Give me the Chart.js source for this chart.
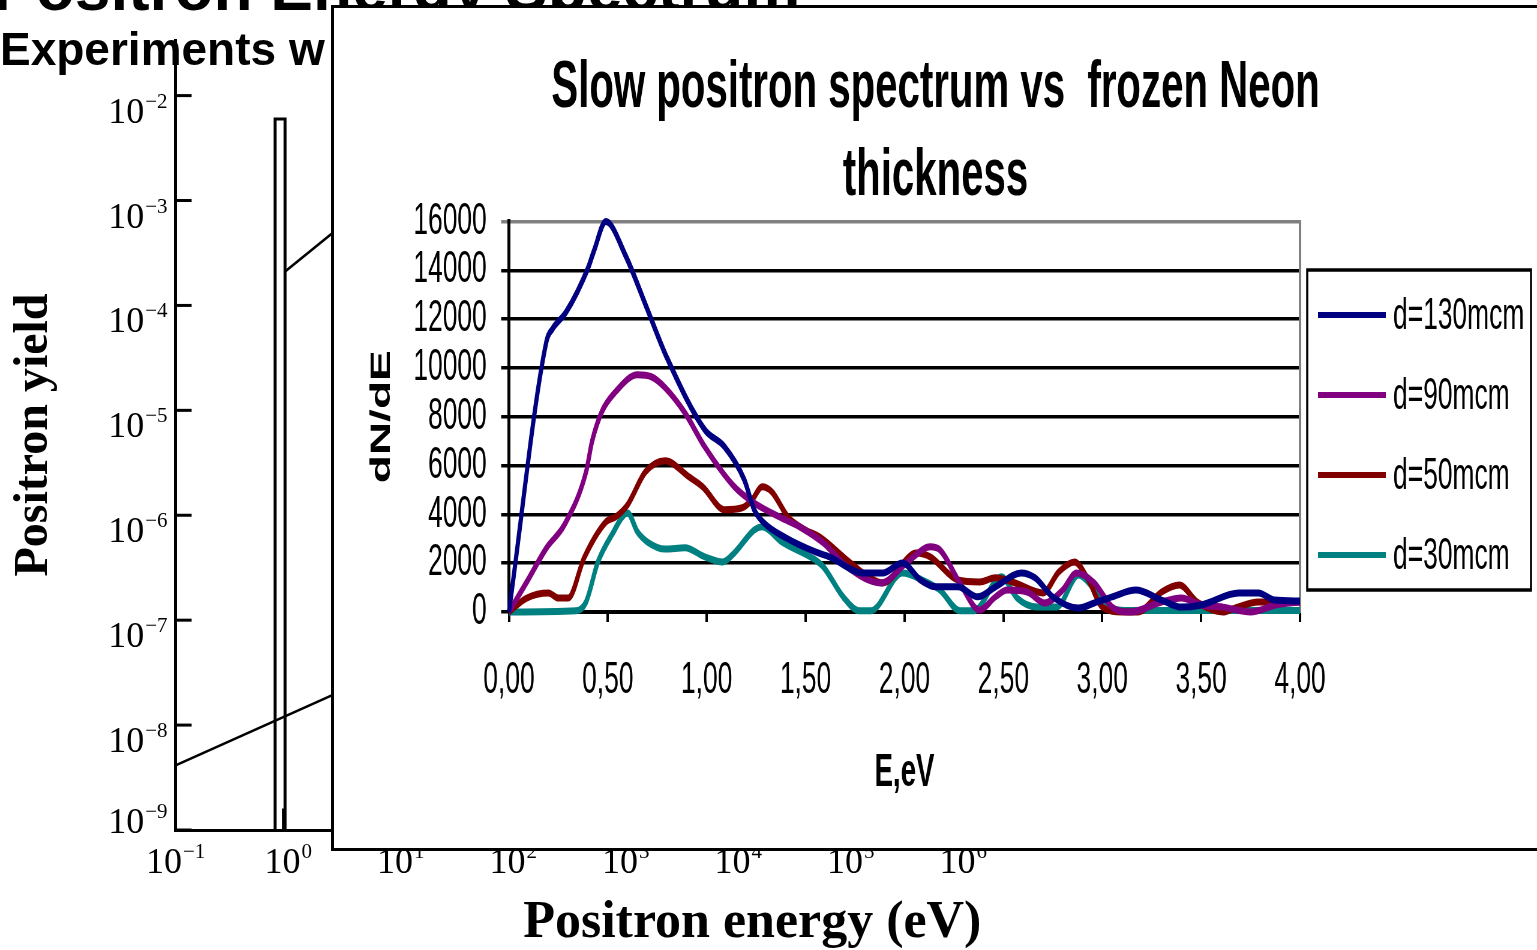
<!DOCTYPE html>
<html>
<head>
<meta charset="utf-8">
<script src="https://cdn.jsdelivr.net/npm/chart.js@4.4.1/dist/chart.umd.min.js"></script>
<style>
  html, body { margin: 0; padding: 0; background: #fff; overflow: hidden; }
  #page { position: relative; width: 1537px; height: 950px; overflow: hidden; }
  #bg { position: absolute; left: 0; top: 0; }
  .txt { position: absolute; white-space: nowrap; font-family: 'Liberation Sans', Arial, sans-serif;
         font-weight: bold; line-height: 1; color: #000; }
  #mainTitle { left: -7px; top: -44px; font-size: 64px; }
  #subTitle { left: 0; top: 26px; font-size: 46px; }
  #box { position: absolute; left: 331px; top: 5px; width: 1220px; height: 846px;
         border: 3px solid #000; box-sizing: border-box; background: #fff; }
  #inset { position: absolute; left: 0; top: 0; transform: scaleX(0.6); transform-origin: 0 0; }
</style>
</head>
<body>
<div id="page">
  <canvas id="bg" width="1537" height="950"></canvas>
  <div class="txt" id="mainTitle">Positron Energy Spectrum</div>
  <div class="txt" id="subTitle">Experiments w</div>
  <div id="box"><canvas id="inset" width="2005" height="840"></canvas></div>
</div>
<script>
// background log-log plot (mostly hidden behind the inset)
const bgXExps = [-1, 0, 1, 2, 3, 4, 5, 6];
const bgYExps = [-2, -3, -4, -5, -6, -7, -8, -9];
const peakOutline = [[0.766, 1e-9], [0.766, 6e-3], [0.94, 6e-3], [0.94, 1e-9]];
const upperLine = [[0.94, 2.11e-4], [3, 5.78e-4]];
const lowerLine = [[0.1, 4.14e-9], [3, 2.12e-8]];
const baseMark = [[0.92, 1e-9], [0.92, 1.6e-9]];

// inset: slow positron spectrum
const energyTicks = [0, 0.5, 1, 1.5, 2, 2.5, 3, 3.5, 4];
const energyLabels = ['0,00', '0,50', '1,00', '1,50', '2,00', '2,50', '3,00', '3,50', '4,00'];
const countTicks = [0, 2000, 4000, 6000, 8000, 10000, 12000, 14000, 16000];
const seriesNames = ['d=130mcm', 'd=90mcm', 'd=50mcm', 'd=30mcm'];

const d130 = [[0,0],[0.19,11100],[0.22,11600],[0.29,12300],[0.40,14100],[0.43,14800],[0.49,16000],
  [0.59,14600],[0.70,12400],[0.80,10400],[0.99,7470],[1.09,6770],[1.19,5420],[1.24,4190],[1.29,3650],
  [1.40,3040],[1.55,2460],[1.62,2260],[1.79,1600],[1.89,1600],[1.99,2010],[2.08,1310],[2.16,1030],
  [2.27,1030],[2.37,620],[2.46,1030],[2.59,1600],[2.66,1400],[2.75,620],[2.88,160],[2.96,370],
  [3.05,620],[3.17,900],[3.30,490],[3.40,200],[3.50,290],[3.69,780],[3.79,780],[3.87,490],[4.00,450]];
const d90 = [[0,0],[0.09,1230],[0.19,2630],[0.28,3570],[0.39,5740],[0.42,6980],[0.47,8210],[0.54,9030],
  [0.65,9720],[0.72,9640],[0.79,9190],[0.89,8160],[0.99,6770],[1.14,5130],[1.24,4470],[1.40,3770],
  [1.47,3490],[1.59,2830],[1.71,1850],[1.88,1190],[2.01,2010],[2.13,2670],[2.18,2540],[2.28,1190],
  [2.38,80],[2.46,620],[2.52,900],[2.62,820],[2.71,370],[2.80,900],[2.87,1600],[2.96,1190],[3.05,200],
  [3.14,0],[3.30,410],[3.40,570],[3.50,290],[3.61,200],[3.75,0],[3.88,300],[4.00,410]];
const d50 = [[0,0],[0.09,570],[0.20,780],[0.25,570],[0.30,570],[0.38,2220],[0.49,3690],[0.54,3900],
  [0.60,4390],[0.69,5740],[0.79,6200],[0.91,5540],[0.98,5130],[1.09,4190],[1.18,4270],[1.23,4600],
  [1.28,5130],[1.33,4920],[1.41,3900],[1.50,3360],[1.57,3080],[1.71,2130],[1.79,1600],[1.89,1190],
  [2.06,2420],[2.13,2260],[2.27,1310],[2.38,1230],[2.46,1400],[2.56,1190],[2.70,780],[2.78,1640],
  [2.86,2050],[2.93,1310],[3.00,200],[3.10,0],[3.18,0],[3.30,820],[3.39,1110],[3.48,410],[3.61,0],
  [3.67,160],[3.79,410],[4.00,410]];
const d30 = [[0,0],[0.34,50],[0.39,410],[0.45,2050],[0.52,3160],[0.60,4060],[0.65,3280],[0.70,2870],
  [0.79,2580],[0.89,2630],[0.99,2260],[1.08,2050],[1.14,2420],[1.24,3360],[1.28,3490],[1.38,2870],
  [1.55,2130],[1.59,1850],[1.69,620],[1.77,50],[1.83,50],[1.99,1600],[2.09,1310],[2.18,900],[2.28,50],
  [2.35,50],[2.49,1440],[2.57,570],[2.67,200],[2.77,200],[2.88,1520],[2.95,1030],[3.03,160],[3.15,60],
  [4.00,60]];

const toPts = arr => arr.map(([x, y]) => ({ x, y }));

// ---------- background chart ----------
const serif = "'Liberation Serif', 'Times New Roman', serif";

function drawPower(ctx, x, base, exp, align) {
  const main = '10';
  const sup = (exp < 0 ? '\u2212' : '') + Math.abs(exp);
  ctx.font = '36px ' + serif;
  const w1 = ctx.measureText(main).width;
  ctx.font = '21px ' + serif;
  const w2 = ctx.measureText(sup).width;
  const x0 = align === 'right' ? x - w1 - w2 - 1 : x - (w1 + w2 + 1) / 2;
  ctx.font = '36px ' + serif;
  ctx.fillText(main, x0, base);
  ctx.font = '21px ' + serif;
  ctx.fillText(sup, x0 + w1 + 1, base - 15);
}

const bgAxisLabels = {
  id: 'bgAxisLabels',
  afterDraw(chart) {
    const { ctx, chartArea: a, scales: { x, y } } = chart;
    ctx.save();
    ctx.fillStyle = '#000';
    ctx.strokeStyle = '#000';
    ctx.textBaseline = 'alphabetic';
    ctx.textAlign = 'left';
    y.ticks.forEach(t => {
      const py = y.getPixelForValue(t.value);
      ctx.lineWidth = 3;
      ctx.beginPath();
      ctx.moveTo(a.left, py);
      ctx.lineTo(a.left + 16, py);
      ctx.stroke();
      drawPower(ctx, a.left - 8, Math.min(py + 27, a.bottom + 3), Math.round(Math.log10(t.value)), 'right');
    });
    x.ticks.forEach(t => {
      const px = x.getPixelForValue(t.value);
      drawPower(ctx, px, a.bottom + 43, Math.round(Math.log10(t.value)), 'center');
    });
    ctx.restore();
  }
};

const bgLine = (pts, w) => ({
  data: toPts(pts), borderColor: '#000', backgroundColor: '#000', borderWidth: w,
  pointRadius: 0, showLine: true, tension: 0, fill: false
});

new Chart(document.getElementById('bg'), {
  type: 'scatter',
  data: { datasets: [bgLine(peakOutline, 3), bgLine(upperLine, 2.5), bgLine(lowerLine, 2.5), bgLine(baseMark, 4)] },
  options: {
    responsive: false, animation: false, devicePixelRatio: 1,
    layout: { padding: { left: 0, right: 208, top: 40, bottom: 0 } },
    plugins: { legend: { display: false }, tooltip: { enabled: false } },
    scales: {
      x: {
        type: 'logarithmic', min: 0.1, max: Math.pow(10, 9.25),
        afterBuildTicks: s => { s.ticks = bgXExps.map(e => ({ value: Math.pow(10, e) })); },
        ticks: { display: false },
        grid: { drawOnChartArea: false, drawTicks: false },
        border: { color: '#000', width: 3 },
        title: { display: true, text: 'Positron energy (eV)', color: '#000',
                 font: { family: serif, size: 52, weight: 'bold', lineHeight: 1 }, padding: { top: 68, bottom: 0 } }
      },
      y: {
        type: 'logarithmic', min: 1e-9, max: Math.pow(10, -1.47),
        afterBuildTicks: s => { s.ticks = bgYExps.map(e => ({ value: Math.pow(10, e) })); },
        ticks: { display: false },
        grid: { drawOnChartArea: false, drawTicks: false },
        border: { color: '#000', width: 3 },
        title: { display: true, text: 'Positron yield', color: '#000',
                 font: { family: serif, size: 48, weight: 'bold' }, padding: { top: 6, bottom: 112 } }
      }
    }
  },
  plugins: [bgAxisLabels]
});

// ---------- inset chart ----------
Chart.defaults.font.family = "'Liberation Sans', Arial, sans-serif";
Chart.defaults.color = '#000';

const insetLegend = {
  id: 'insetLegend',
  afterDraw(chart) {
    const { ctx, chartArea: a } = chart;
    const L = a.right + 12, T = 262, W = 373, H = 320;
    ctx.save();
    ctx.strokeStyle = '#000';
    ctx.lineWidth = 3.5;
    ctx.strokeRect(L, T, W, H);
    ctx.font = "44px 'Liberation Sans', Arial, sans-serif";
    ctx.textBaseline = 'middle';
    ctx.textAlign = 'left';
    ctx.fillStyle = '#000';
    chart.data.datasets.forEach((ds, i) => {
      const y = T + 45 + i * 80;
      ctx.strokeStyle = ds.borderColor;
      ctx.lineWidth = 6;
      ctx.beginPath();
      ctx.moveTo(L + 18, y);
      ctx.lineTo(L + 131, y);
      ctx.stroke();
      ctx.fillText(ds.label, L + 143, y + 2);
    });
    ctx.restore();
  }
};

const series = (label, arr, color) => ({
  label, data: toPts(arr), borderColor: color, backgroundColor: color, borderWidth: 7,
  pointRadius: 0, cubicInterpolationMode: 'monotone', fill: false, clip: 8
});

new Chart(document.getElementById('inset'), {
  type: 'line',
  data: {
    datasets: [
      series(seriesNames[0], d130, '#000080'),
      series(seriesNames[1], d90, '#800080'),
      series(seriesNames[2], d50, '#800000'),
      series(seriesNames[3], d30, '#008080')
    ]
  },
  options: {
    responsive: false, animation: false, devicePixelRatio: 1,
    layout: { padding: { left: 0, right: 0, top: 0, bottom: 42 } },
    plugins: {
      legend: { display: false },
      tooltip: { enabled: false },
      title: {
        display: true, text: ['Slow positron spectrum vs  frozen Neon', 'thickness'], color: '#000',
        font: { size: 67, weight: 'bold', lineHeight: 1.31 }, padding: { top: 37, bottom: 1 }
      }
    },
    scales: {
      x: {
        type: 'linear', min: 0, max: 4,
        afterBuildTicks: s => { s.ticks = energyTicks.map(v => ({ value: v })); },
        ticks: { color: '#000', font: { size: 44 }, padding: 32, maxRotation: 0, autoSkip: false,
                 callback: (v, i) => energyLabels[i] },
        grid: { drawOnChartArea: false, color: '#000', lineWidth: 4, tickLength: 10 },
        border: { color: '#000', width: 3 },
        title: { display: true, text: 'E,eV', color: '#000', font: { size: 46, weight: 'bold' },
                 padding: { top: 7, bottom: 5 } }
      },
      y: {
        min: 0, max: 16000,
        afterBuildTicks: s => { s.ticks = countTicks.map(v => ({ value: v })); },
        ticks: { color: '#000', font: { size: 44 }, padding: 24, autoSkip: false, callback: v => String(v) },
        grid: { color: c => (c.tick && c.tick.value === 16000 ? '#808080' : '#000'), lineWidth: 3.5, tickLength: 13 },
        border: { color: '#000', width: 5 },
        title: { display: true, text: 'dN/dE', color: '#000', font: { size: 46, weight: 'bold' },
                 padding: { top: 53, bottom: 0 } }
      },
      // empty right-hand axis: reserves room for the legend and draws the grey plot edge
      yEdge: {
        type: 'linear', position: 'right', min: 0, max: 1,
        afterFit: s => { s.width = 395; },
        ticks: { display: false },
        grid: { drawOnChartArea: false, drawTicks: false },
        border: { color: '#808080', width: 4 }
      }
    }
  },
  plugins: [insetLegend]
});
</script>
</body>
</html>
